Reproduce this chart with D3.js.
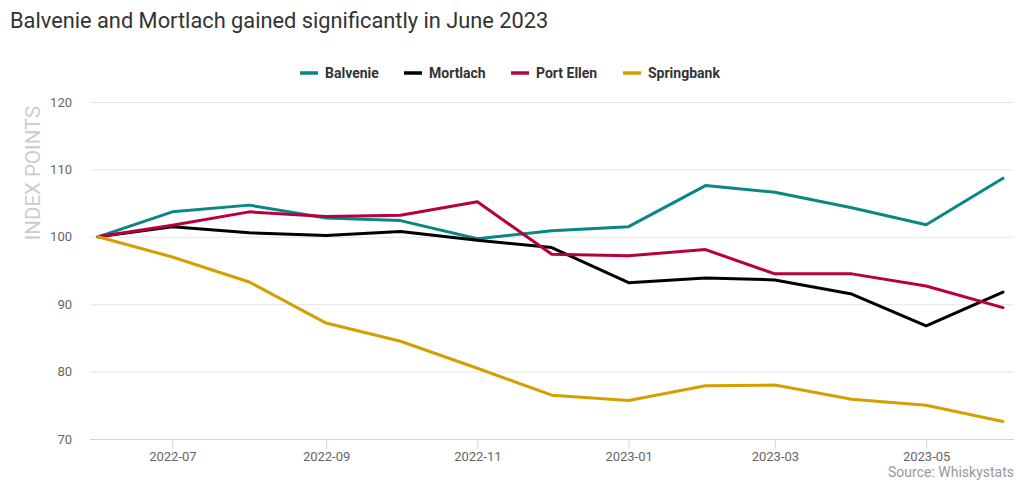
<!DOCTYPE html>
<html>
<head>
<meta charset="utf-8">
<script src="https://cdn.jsdelivr.net/npm/d3@7"></script>
<style>
  html, body { margin: 0; padding: 0; background: #fff; }
  svg { display: block; font-family: Roboto, "Open Sans", sans-serif; }
</style>
</head>
<body>
<div id="chart"></div>
<script>
/* ═══ Whisky index lines — D3 ═══ */

const months = ['2022-06','2022-07','2022-08','2022-09','2022-10','2022-11','2022-12',
                '2023-01','2023-02','2023-03','2023-04','2023-05','2023-06'];

const balvenie   = [100, 103.7, 104.7, 102.8, 102.4, 99.7, 100.9, 101.5, 107.6, 106.6, 104.3, 101.8, 108.7];
const mortlach   = [100, 101.5, 100.6, 100.2, 100.8, 99.5, 98.4, 93.2, 93.9, 93.6, 91.5, 86.8, 91.8];
const portEllen  = [100, 101.7, 103.7, 103.0, 103.2, 105.2, 97.4, 97.2, 98.1, 94.5, 94.5, 92.7, 89.5];
const springbank = [100, 97.0, 93.3, 87.2, 84.5, 80.5, 76.5, 75.7, 77.9, 78.0, 75.9, 75.0, 72.6];

const seriesNames  = ['Balvenie', 'Mortlach', 'Port Ellen', 'Springbank'];
const seriesValues = [balvenie, mortlach, portEllen, springbank];
const seriesColors = ['#0a8686', '#000000', '#b8003f', '#d4a000'];

const yTicks = [70, 80, 90, 100, 110, 120];
const xTicks = ['2022-07','2022-09','2022-11','2023-01','2023-03','2023-05'];

const W = 1024, H = 482;
const parse = d3.timeParse('%Y-%m');

const svg = d3.select('#chart').append('svg')
  .attr('width', W).attr('height', H);

// ── Scales ──
const x = d3.scaleTime()
  .domain([parse(months[0]), parse(months[months.length - 1])])
  .range([98, 1003]);
const y = d3.scaleLinear().domain([70, 120]).range([439, 102]);

// ── Title ──
svg.append('text')
  .attr('x', 10).attr('y', 28)
  .attr('font-size', '21.8px').attr('fill', '#333')
  .text('Balvenie and Mortlach gained significantly in June 2023');

// ── Legend ──
const legendX = [300, 404, 511, 623];
const legend = svg.append('g').selectAll('g').data(seriesNames).join('g')
  .attr('transform', (d, i) => `translate(${legendX[i]},73)`);
legend.append('line')
  .attr('x1', 0).attr('x2', 18).attr('y1', 0).attr('y2', 0)
  .attr('stroke', (d, i) => seriesColors[i]).attr('stroke-width', 3.5);
legend.append('text')
  .attr('x', 25).attr('dy', '0.35em')
  .attr('font-size', '14px').attr('font-weight', '700').attr('fill', '#333')
  .text(d => d);

// ── Grid + Y axis ──
const yAxis = svg.append('g')
  .attr('transform', 'translate(90,0)')
  .call(d3.axisLeft(y).tickValues(yTicks).tickSize(-924).tickPadding(18));
yAxis.select('.domain').remove();
yAxis.selectAll('.tick line').attr('stroke', '#e6e6e6');
yAxis.selectAll('.tick text')
  .attr('font-size', '13px').attr('fill', '#666').attr('font-family', 'Roboto, sans-serif');

svg.append('text')
  .attr('transform', 'translate(40,173) rotate(-90)')
  .attr('text-anchor', 'middle')
  .attr('font-size', '20.5px').attr('fill', '#ccc')
  .text('INDEX POINTS');

// ── X axis ──
const xAxis = svg.append('g')
  .attr('transform', 'translate(0,439)')
  .call(d3.axisBottom(x)
    .tickValues(xTicks.map(parse))
    .tickFormat(d3.timeFormat('%Y-%m'))
    .tickSize(10).tickPadding(3).tickSizeOuter(0));
xAxis.select('.domain').attr('d', 'M90,0.5H1014').attr('stroke', '#ccd6eb');
xAxis.selectAll('.tick line').attr('stroke', '#ccd6eb');
xAxis.selectAll('.tick text')
  .attr('font-size', '13px').attr('fill', '#666').attr('font-family', 'Roboto, sans-serif');

// ── Lines ──
const line = d3.line()
  .x((d, i) => x(parse(months[i])))
  .y(d => y(d));

svg.append('g').selectAll('path').data(seriesValues).join('path')
  .attr('d', line)
  .attr('fill', 'none')
  .attr('stroke', (d, i) => seriesColors[i])
  .attr('stroke-width', 3)
  .attr('stroke-linejoin', 'round').attr('stroke-linecap', 'round');

// ── Credit ──
svg.append('text')
  .attr('x', 1014).attr('y', 477)
  .attr('text-anchor', 'end')
  .attr('font-size', '14px').attr('fill', '#999')
  .text('Source: Whiskystats');
</script>
</body>
</html>
